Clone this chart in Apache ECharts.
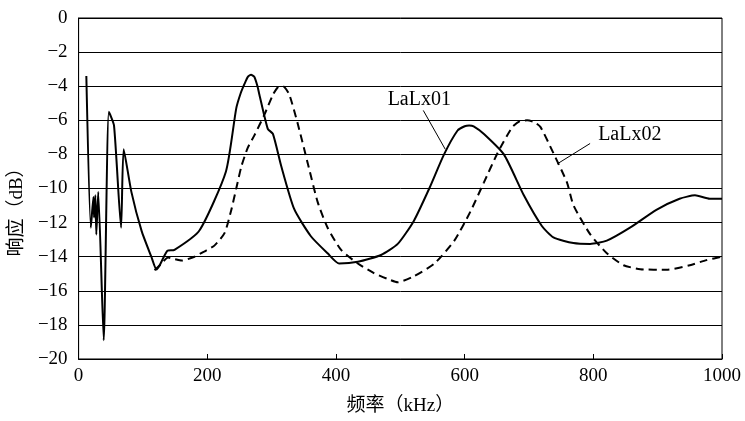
<!DOCTYPE html>
<html><head><meta charset="utf-8">
<script src="https://cdn.jsdelivr.net/npm/echarts@6/dist/echarts.min.js"></script>
<style>html,body{margin:0;padding:0;background:#fff}#c{width:745px;height:421px}</style>
</head><body><div id="c"></div>
<script>
const freq01 = [12,19,23,24,26,27.5,30.5,39,47,55,66,70,82,98,113,121,126,138,149,188,229,245,252,258,263,268,273,278,281,294,302,315,335,361,387,405,434,470,496,521,545,568,589,600,607,614,630,661,692,720,738,769,795,821,857,898,934,958,981,1000];
const resp01 = [-3.4,-12.3,-10.5,-11.7,-10.4,-12.7,-10.2,-18.9,-5.5,-6.3,-12.3,-7.7,-10.2,-12.5,-14.0,-14.75,-14.5,-13.65,-13.6,-12.45,-9.0,-5.3,-4.4,-3.85,-3.45,-3.33,-3.45,-4.0,-4.5,-6.5,-6.8,-8.7,-11.2,-12.8,-13.8,-14.4,-14.3,-13.9,-13.25,-11.9,-10.0,-8.0,-6.6,-6.35,-6.3,-6.35,-6.8,-8.0,-10.4,-12.2,-12.87,-13.2,-13.25,-13.06,-12.3,-11.25,-10.6,-10.4,-10.6,-10.6];
const freq02 = [118,129,139,150,160,180,195,211,227,237,245,253,263,273,289,302,310,315,320,327.6,340.6,356,371.6,387,408,434,459,480,496,521,553,584,609,630,651,674,686,697,708,718,738,759,769,795,821,847,873,914,950,976,1000];
const resp02 = [-14.8,-14.4,-14.05,-14.15,-14.23,-14.0,-13.7,-13.35,-12.6,-11.3,-10.0,-8.7,-7.6,-6.9,-5.65,-4.5,-4.05,-3.98,-4.05,-4.5,-6.2,-8.5,-10.8,-12.3,-13.6,-14.4,-14.96,-15.3,-15.5,-15.15,-14.4,-13.06,-11.35,-9.64,-7.93,-6.4,-6.05,-6.0,-6.1,-6.4,-7.93,-9.64,-10.97,-12.68,-13.8,-14.5,-14.73,-14.77,-14.5,-14.2,-14.0];
const seriesNames = ['LaLx01','LaLx02'];
const labelPos01 = [529.5,-4.82];
const leader01 = [[535.7,-5.42],[569.9,-7.7]];
const labelPos02 = [807.5,-6.86];
const leader02 = [[795,-7.36],[743.8,-8.56]];

const zip = (a,b) => a.map((v,i)=>[v,b[i]]);
const serif = "'Liberation Serif','Noto Sans CJK SC'";
const chart = echarts.init(document.getElementById('c'));
const txt = {color:'#000',fontFamily:serif,fontSize:20,verticalAlign:'middle',textBorderWidth:0,opacity:1};
chart.setOption({
  animation:false,
  backgroundColor:'#fff',
  grid:{left:78,right:23,top:18,bottom:52.5,show:true,borderColor:'#000',borderWidth:1,containLabel:false},
  xAxis:{type:'value',min:0,max:1000,interval:200,
    name:'频率（kHz）',nameLocation:'middle',nameGap:38,
    nameTextStyle:{fontFamily:serif,fontSize:19,color:'#000'},
    axisLine:{show:true,onZero:false,lineStyle:{color:'#000',width:1}},
    axisTick:{show:true,inside:true,length:5,lineStyle:{color:'#000'}},
    axisLabel:{fontFamily:serif,fontSize:19,color:'#000',margin:8,formatter:v=>String(v)},
    splitLine:{show:false}},
  yAxis:{type:'value',min:-20,max:0,interval:2,
    name:'响应（dB）',nameLocation:'middle',nameRotate:90,nameGap:44,
    nameTextStyle:{fontFamily:serif,fontSize:19,color:'#000',padding:[0,38,0,0]},
    axisLine:{show:true,onZero:false,lineStyle:{color:'#000',width:1}},
    axisTick:{show:false},
    axisLabel:{fontFamily:serif,fontSize:19,color:'#000',margin:11,
      formatter:v=>String(v).replace('-','\u2212')},
    splitLine:{show:true,lineStyle:{color:'#000',width:1}}},
  series:[
    {name:seriesNames[0],type:'line',data:zip(freq01,resp01),showSymbol:false,symbol:'none',smooth:0.2,
     lineStyle:{color:'#000',width:2},
     markLine:{silent:true,symbol:'none',label:{show:false},lineStyle:{color:'#000',width:1,type:'solid'},
       data:[[{coord:leader01[0]},{coord:leader01[1]}]]}},
    {name:seriesNames[1],type:'line',data:zip(freq02,resp02),showSymbol:false,symbol:'none',smooth:0.2,
     lineStyle:{color:'#000',width:2,type:[8,5]},
     markLine:{silent:true,symbol:'none',label:{show:false},lineStyle:{color:'#000',width:1,type:'solid'},
       data:[[{coord:leader02[0]},{coord:leader02[1]}]]}},
    {type:'scatter',symbolSize:0,silent:true,itemStyle:{opacity:1},
     data:[{value:labelPos01,label:Object.assign({show:true,formatter:seriesNames[0],position:'inside',align:'center'},txt)},
           {value:labelPos02,label:Object.assign({show:true,formatter:seriesNames[1],position:'inside',align:'left'},txt)}]}
  ]
});
</script></body></html>
